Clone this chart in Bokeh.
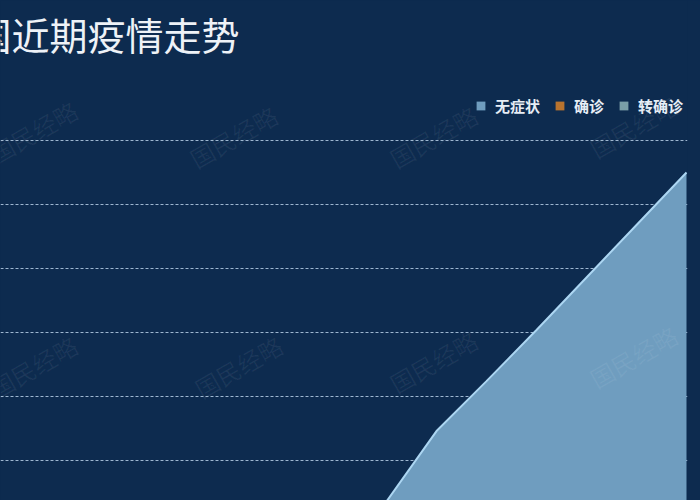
from bokeh.plotting import figure
from bokeh.models import (ColumnDataSource, Range1d, Grid, FixedTicker,
                          Legend, LegendItem, Label)
from bokeh.embed import file_html
from bokeh.resources import INLINE

# ---- data ----
days = list(range(15))
asymptomatic = [40, 60, 90, 130, 200, 310, 520, 900, 1800, 7300, 11200, 15200, 19300, 23400, 27500]
confirmed = [5, 8, 10, 12, 15, 20, 25, 30, 40, 55, 70, 90, 110, 130, 150]
converted = [2, 3, 4, 5, 6, 8, 10, 12, 15, 20, 25, 30, 36, 42, 50]
grid_ticks = [5000, 10000, 15000, 20000, 25000, 30000]
series_names = ["无症状", "确诊", "转确诊"]
title_text = "全国近期疫情走势"
watermark = "国民经略"

BG = "#0d2b4f"
FONT = "Noto Sans CJK SC"

src = ColumnDataSource(dict(x=days, a=asymptomatic, c=confirmed, t=converted))

p = figure(width=700, height=500, output_backend="svg", toolbar_location=None,
           x_range=Range1d(0.28, 14.02), y_range=Range1d(1875, 40937.5),
           x_axis_location=None, y_axis_location=None,
           min_border_left=0, min_border_right=13, min_border_top=0, min_border_bottom=0,
           background_fill_color=BG, border_fill_color=BG, outline_line_color=None)
p.grid.visible = False

grid = Grid(dimension=1, ticker=FixedTicker(ticks=grid_ticks),
            grid_line_color="#b8d0e8", grid_line_alpha=0.85, grid_line_width=1,
            grid_line_dash="3 2")
p.add_layout(grid)

r_a = p.varea(x="x", y1=0, y2="a", source=src, fill_color="#6f9dbf", fill_alpha=1.0)
p.line(x="x", y="a", source=src, line_color="#acd6f2", line_width=2)
r_c = p.varea(x="x", y1=0, y2="c", source=src, fill_color="#b8732e")
r_t = p.varea(x="x", y1=0, y2="t", source=src, fill_color="#7a9fa8")

legend = Legend(items=[LegendItem(label=series_names[0], renderers=[r_a]),
                       LegendItem(label=series_names[1], renderers=[r_c]),
                       LegendItem(label=series_names[2], renderers=[r_t])],
                orientation="horizontal", location=(475, 384),
                glyph_width=11, glyph_height=11, label_standoff=9, spacing=14,
                padding=0, margin=0, label_height=20,
                label_text_font=FONT, label_text_font_size="15px",
                label_text_color="#e6edf5", label_text_font_style="bold",
                background_fill_alpha=0, border_line_alpha=0)
p.add_layout(legend, "center")

p.add_layout(Label(x=-65, y=467, x_units="screen", y_units="screen", text=title_text,
                   text_font=FONT, text_font_size="38px", text_color="#eef2f7",
                   text_baseline="middle"))

for (wx, wy) in [(0, 330), (200, 325), (400, 325), (600, 335),
                 (0, 95), (205, 95), (400, 100), (600, 105)]:
    p.add_layout(Label(x=wx, y=wy, x_units="screen", y_units="screen", text=watermark,
                       text_font=FONT, text_font_size="24px", text_color="#ffffff",
                       text_alpha=0.06, angle=0.52))

html = file_html(p, INLINE)
style = ("<style>html,body{margin:0;padding:0;overflow:hidden;background:%s;}</style>" % BG)
html = html.replace("</head>", style + "</head>", 1)
open("out.html", "w").write(html)
